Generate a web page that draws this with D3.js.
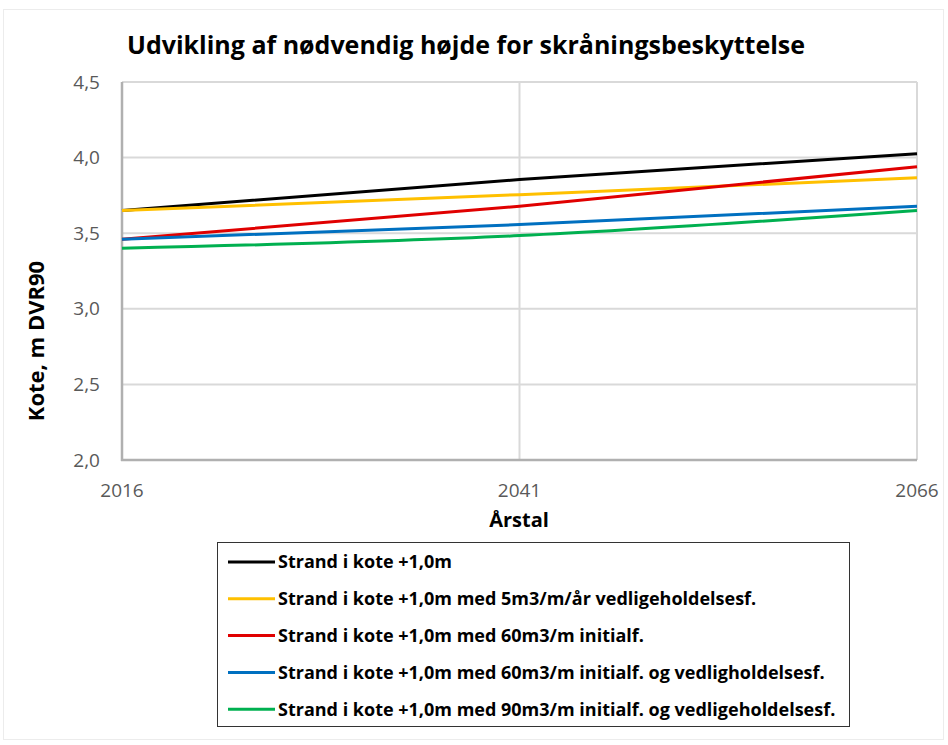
<!DOCTYPE html>
<html>
<head>
<meta charset="utf-8">
<script src="https://cdn.jsdelivr.net/npm/d3@7/dist/d3.min.js"></script>
<style>
  html, body { margin: 0; padding: 0; background: #fff; }
  svg { display: block; }
</style>
</head>
<body>
<svg id="chart" width="948" height="745"></svg>
<script>
// Years on the category axis
const years = [2016, 2041, 2066];
// Required crest level (m DVR90) per scenario
const strand = [3.65, 3.855, 4.026];
const strand5m3 = [3.65, 3.755, 3.866];
const strand60m3 = [3.46, 3.678, 3.94];
const strand60m3Vedl = [3.46, 3.557, 3.678];
const strand90m3Vedl = [3.40, 3.484, 3.65];
const seriesNames = [
  "Strand i kote +1,0m",
  "Strand i kote +1,0m med 5m3/m/år vedligeholdelsesf.",
  "Strand i kote +1,0m med 60m3/m initialf.",
  "Strand i kote +1,0m med 60m3/m initialf. og vedligholdelsesf.",
  "Strand i kote +1,0m med 90m3/m initialf. og vedligeholdelsesf."
];
const seriesColors = ["#000000", "#FFC000", "#E00000", "#0070C0", "#00B050"];
const yTicks = [2.0, 2.5, 3.0, 3.5, 4.0, 4.5];

const series = [strand, strand5m3, strand60m3, strand60m3Vedl, strand90m3Vedl]
  .map((vals, i) => ({ name: seriesNames[i], color: seriesColors[i], values: vals }));

const svg = d3.select("#chart");
const font = "'Open Sans', 'DejaVu Sans', sans-serif";

// faint outer chart frame
svg.append("rect").attr("x", 3.5).attr("y", 9.5).attr("width", 940).attr("height", 730)
  .attr("fill", "none").attr("stroke", "#ececec").attr("stroke-width", 1);

const plot = { left: 122, right: 917, top: 82, bottom: 460 };
const x = d3.scalePoint().domain(years).range([plot.left, plot.right]);
const y = d3.scaleLinear().domain([2.0, 4.5]).range([plot.bottom, plot.top]);

// horizontal gridlines
svg.append("g").selectAll("line").data(yTicks.filter(d => d > 2.0)).join("line")
  .attr("x1", plot.left).attr("x2", plot.right)
  .attr("y1", d => y(d)).attr("y2", d => y(d))
  .attr("stroke", "#d9d9d9").attr("stroke-width", 2);
// vertical gridlines
svg.append("g").selectAll("line").data(years.slice(1)).join("line")
  .attr("x1", d => x(d)).attr("x2", d => x(d))
  .attr("y1", plot.top).attr("y2", plot.bottom)
  .attr("stroke", "#d9d9d9").attr("stroke-width", 2);

// axis lines
svg.append("line").attr("x1", plot.left).attr("x2", plot.left)
  .attr("y1", plot.top).attr("y2", plot.bottom + 1)
  .attr("stroke", "#b0b0b0").attr("stroke-width", 2.5);
svg.append("line").attr("x1", plot.left - 1).attr("x2", plot.right)
  .attr("y1", plot.bottom).attr("y2", plot.bottom)
  .attr("stroke", "#b0b0b0").attr("stroke-width", 2.5);

// y tick labels
svg.append("g").selectAll("text").data(yTicks).join("text")
  .attr("x", plot.left - 22).attr("y", d => y(d)).attr("dy", "0.35em")
  .attr("text-anchor", "end").attr("font-family", font).attr("font-size", 19)
  .attr("fill", "#595959").text(d => d3.format(".1f")(d).replace(".", ","));

// x tick labels
svg.append("g").selectAll("text").data(years).join("text")
  .attr("x", d => x(d)).attr("y", 497)
  .attr("text-anchor", "middle").attr("font-family", font).attr("font-size", 19)
  .attr("fill", "#595959").text(d => d);

// axis titles
svg.append("text").attr("x", 519).attr("y", 527).attr("text-anchor", "middle")
  .attr("font-family", font).attr("font-size", 20).attr("font-weight", "bold")
  .attr("fill", "#000").text("Årstal");
svg.append("text").attr("transform", "translate(44,341) rotate(-90)")
  .attr("text-anchor", "middle").attr("font-family", font).attr("font-size", 22)
  .attr("font-weight", "bold").attr("fill", "#000").text("Kote, m DVR90");

// title
svg.append("text").attr("x", 466).attr("y", 54).attr("text-anchor", "middle")
  .attr("font-family", font).attr("font-size", 25).attr("font-weight", "bold")
  .attr("fill", "#000").text("Udvikling af nødvendig højde for skråningsbeskyttelse");

// series lines
const line = d3.line().x((d, i) => x(years[i])).y(d => y(d)).curve(d3.curveMonotoneX);
svg.append("g").selectAll("path").data(series).join("path")
  .attr("d", d => line(d.values)).attr("fill", "none")
  .attr("stroke", d => d.color).attr("stroke-width", 3);

// legend
const lg = svg.append("g");
lg.append("rect").attr("x", 217.5).attr("y", 542.5).attr("width", 632).attr("height", 184)
  .attr("fill", "#fff").attr("stroke", "#333").attr("stroke-width", 1);
const items = lg.selectAll("g").data(series).join("g")
  .attr("transform", (d, i) => `translate(0,${562 + i * 36.8})`);
items.append("line").attr("x1", 228).attr("x2", 275).attr("y1", 0).attr("y2", 0)
  .attr("stroke", d => d.color).attr("stroke-width", 3);
items.append("text").attr("x", 278).attr("y", 0).attr("dy", "0.35em")
  .attr("font-family", font).attr("font-size", 18).attr("font-weight", "bold")
  .attr("fill", "#000").text(d => d.name);
</script>
</body>
</html>
